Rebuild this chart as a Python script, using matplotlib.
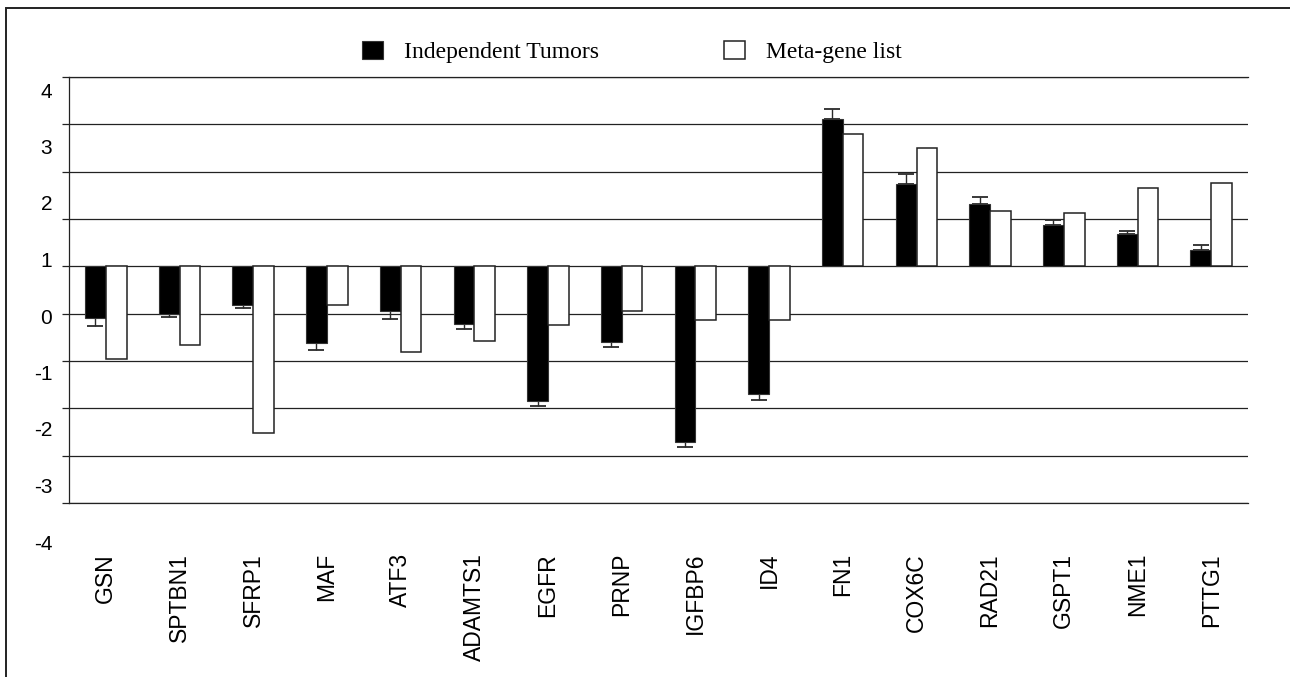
import numpy as np
import matplotlib.pyplot as plt
from matplotlib.patches import Rectangle

genes = ['GSN', 'SPTBN1', 'SFRP1', 'MAF', 'ATF3', 'ADAMTS1', 'EGFR', 'PRNP',
         'IGFBP6', 'ID4', 'FN1', 'COX6C', 'RAD21', 'GSPT1', 'NME1', 'PTTG1']
tumors = [-1.10, -1.01, -0.82, -1.63, -0.94, -1.21, -2.84, -1.59,
          -3.71, -2.69, 3.11, 1.73, 1.31, 0.87, 0.68, 0.34]
tumors_err = [0.17, 0.07, 0.07, 0.14, 0.18, 0.11, 0.11, 0.11,
              0.11, 0.14, 0.21, 0.22, 0.15, 0.10, 0.06, 0.11]
meta = [-1.95, -1.66, -3.52, -0.82, -1.80, -1.57, -1.24, -0.94,
        -1.13, -1.13, 2.80, 2.49, 1.16, 1.12, 1.65, 1.77]
tick_values = [4, 3, 2, 1, 0, -1, -2, -3, -4]

W, H = 1290, 677
fig = plt.figure(figsize=(W / 100, H / 100), dpi=100)
ax = fig.add_axes([69 / W, 1 - 503 / H, (1248 - 69) / W, (503 - 77) / H])

x = np.arange(len(genes))
bw = 0.28
off = 0.142
t = np.array(tumors)
e = np.array(tumors_err)

b1 = ax.bar(x - off, t, bw, color='black', edgecolor='#333333', lw=0.8,
            zorder=3, label='Independent Tumors')
b2 = ax.bar(x + off, meta, bw, color='white', edgecolor='#222222', lw=1.1,
            zorder=3, label='Meta-gene list')

# one-sided error bars, pointing away from the baseline
lower = np.where(t < 0, e, 0)
upper = np.where(t > 0, e, 0)
ax.errorbar(x - off, t, yerr=[lower, upper], fmt='none', ecolor='#2a2a2a',
            elinewidth=1.0, capsize=6, capthick=1.3, zorder=2.5)

ax.set_xlim(-0.5, len(genes) - 0.5)
ax.set_ylim(-5, 4)
ax.set_yticks(range(-5, 5))
ax.set_yticklabels([])
ax.yaxis.grid(True, color='#222222', lw=0.9)
ax.set_axisbelow(True)
ax.tick_params(axis='y', length=5, width=0.9, color='#222222', direction='out')

ax.set_xticks(x)
ax.set_xticklabels(genes, rotation=90, fontsize=16.5, family='Liberation Sans')
ax.tick_params(axis='x', length=0, pad=36)

ax.spines['right'].set_visible(False)
for side in ['left', 'top', 'bottom']:
    ax.spines[side].set_color('#222222')
    ax.spines[side].set_linewidth(0.9)

# value labels on the left sit on their own scale
lab = fig.add_axes([69 / W, 1 - 542 / H, 0.0001, (542 - 90) / H])
lab.set_ylim(-4, 4)
lab.set_yticks(tick_values)
lab.set_yticklabels([str(v) for v in tick_values], fontsize=15,
                    family='Liberation Sans')
lab.tick_params(axis='y', length=0, pad=12)
lab.set_xticks([])
for s in lab.spines.values():
    s.set_visible(False)
lab.patch.set_visible(False)

fig.legend(handles=[b1, b2], loc='center', bbox_to_anchor=(632 / W, 1 - 52 / H),
           ncol=2, frameon=False, prop={'family': 'Liberation Serif', 'size': 17},
           handlelength=0.88, handleheight=0.8, handletextpad=0.9,
           columnspacing=5.3)

fig.add_artist(Rectangle((6 / W, -0.1), 1.2, 1.1 - 8 / H, fill=False,
                         edgecolor='#222222', lw=1.4, transform=fig.transFigure))

fig.savefig('out.png', dpi=100)
